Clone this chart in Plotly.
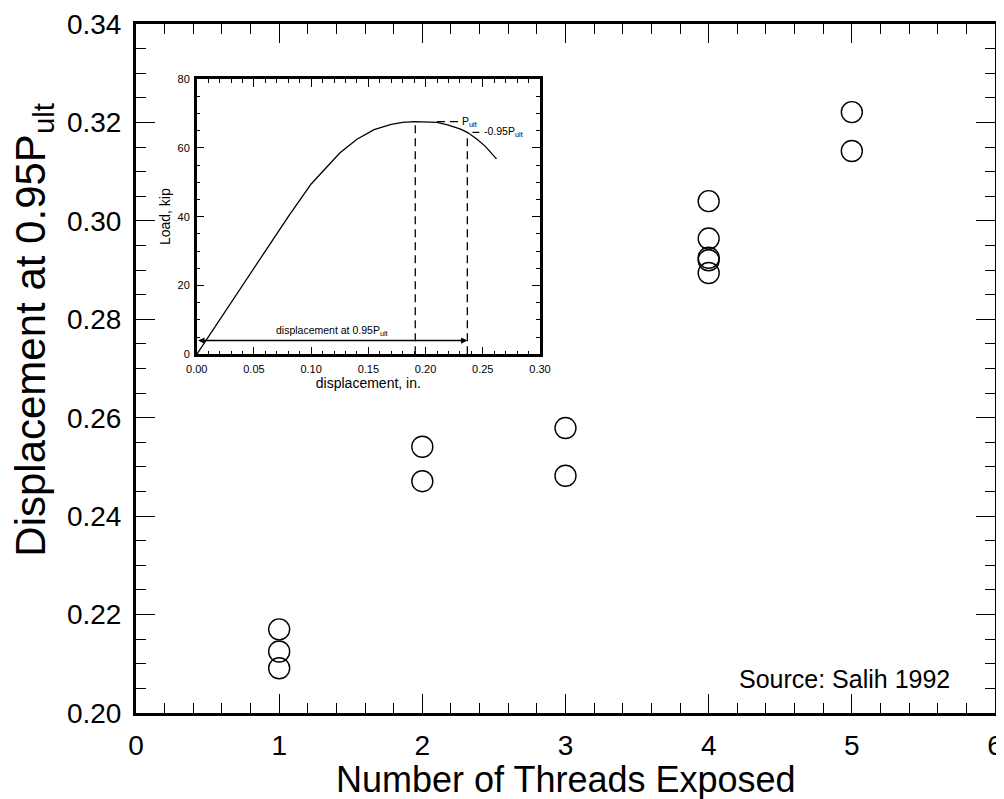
import plotly.graph_objects as go

# Main data: displacement at 0.95 Pult vs threads exposed
threads = [1, 1, 1, 2, 2, 3, 3, 4, 4, 4, 4, 4, 5, 5]
disp = [0.217, 0.2125, 0.2091, 0.2541, 0.2471, 0.2579, 0.2482,
        0.3040, 0.2964, 0.2925, 0.2920, 0.2894, 0.3221, 0.3142]

# Inset load-displacement curve
curve_x = [0.0, 0.02, 0.04, 0.06, 0.08, 0.10, 0.115, 0.125, 0.14, 0.155,
           0.17, 0.18, 0.19, 0.20, 0.21, 0.22, 0.23, 0.2365, 0.245, 0.252,
           0.257, 0.262]
curve_y = [0.0, 10.0, 20.0, 30.0, 40.0, 49.5, 55.0, 58.5, 62.5, 65.3,
           66.8, 67.4, 67.6, 67.6, 67.4, 66.6, 65.5, 64.5, 62.5, 60.5,
           58.8, 56.8]
p_ult_disp = 0.191
p_ult = 67.6
disp_95 = 0.2365
load_95 = 64.5

FONT = "Liberation Sans, Arial, sans-serif"

fig = go.Figure()

fig.add_trace(go.Scatter(
    x=threads, y=disp, mode="markers",
    marker=dict(symbol="circle", size=21, color="rgba(0,0,0,0)",
                line=dict(color="black", width=1.4)),
    xaxis="x", yaxis="y", showlegend=False, cliponaxis=False))

# Inset curve
fig.add_trace(go.Scatter(x=curve_x, y=curve_y, mode="lines",
                         line=dict(color="black", width=1.3),
                         xaxis="x2", yaxis="y2", showlegend=False))
# Vertical dashed lines
fig.add_trace(go.Scatter(x=[p_ult_disp, p_ult_disp], y=[0, p_ult], mode="lines",
                         line=dict(color="black", width=1.3, dash="8px,5px"),
                         xaxis="x2", yaxis="y2", showlegend=False))
fig.add_trace(go.Scatter(x=[disp_95, disp_95], y=[0, load_95], mode="lines",
                         line=dict(color="black", width=1.3, dash="8px,5px"),
                         xaxis="x2", yaxis="y2", showlegend=False))
# Leaders
fig.add_trace(go.Scatter(x=[0.21, 0.229], y=[p_ult, p_ult], mode="lines",
                         line=dict(color="black", width=1.3, dash="8px,5px"),
                         xaxis="x2", yaxis="y2", showlegend=False))
fig.add_trace(go.Scatter(x=[0.241, 0.247], y=[load_95, load_95], mode="lines",
                         line=dict(color="black", width=1.3),
                         xaxis="x2", yaxis="y2", showlegend=False))

main_ax = dict(
    showline=True, linecolor="black", linewidth=3, mirror="ticks",
    ticks="inside", ticklen=19, tickwidth=1.3, tickcolor="black",
    showgrid=False, zeroline=False, automargin=False,
    tickfont=dict(family=FONT, size=28, color="black"),
)
inset_ax = dict(
    showline=True, linecolor="black", linewidth=2.5, mirror="ticks",
    ticks="inside", ticklen=8, tickwidth=1.1, tickcolor="black",
    showgrid=False, zeroline=False, automargin=False,
    tickfont=dict(family=FONT, size=11, color="black"),
)

fig.update_layout(
    width=1004, height=799,
    margin=dict(l=128, r=17, t=16, b=94, autoexpand=False),
    paper_bgcolor="white", plot_bgcolor="white",
    font=dict(family=FONT, color="black"),
    xaxis=dict(range=[0, 6], dtick=1, tick0=0, ticklabelstandoff=5,
               minor=dict(dtick=0.2, ticks="inside", ticklen=10, tickwidth=1.1,
                          tickcolor="black"),
               **main_ax),
    yaxis=dict(range=[0.20, 0.34], dtick=0.02, tick0=0.2, tickformat=".2f",
               ticklabelstandoff=6,
               minor=dict(dtick=0.005, ticks="inside", ticklen=10, tickwidth=1.1,
                          tickcolor="black"),
               **main_ax),
    xaxis2=dict(domain=[0.0707, 0.4703], anchor="y2", range=[0, 0.30],
                dtick=0.05, tick0=0, tickformat=".2f", ticklabelstandoff=3,
                minor=dict(dtick=0.01, ticks="inside", ticklen=4, tickwidth=1,
                           tickcolor="black"),
                title=dict(text="displacement, in.", standoff=1,
                           font=dict(family=FONT, size=14, color="black")),
                **inset_ax),
    yaxis2=dict(domain=[0.5206, 0.9202], anchor="x2", range=[0, 80],
                dtick=20, tick0=0, ticklabelstandoff=2,
                minor=dict(dtick=5, ticks="inside", ticklen=4, tickwidth=1,
                           tickcolor="black"),
                title=dict(text="Load, kip", standoff=4,
                           font=dict(family=FONT, size=14, color="black")),
                **inset_ax),
)

# White background for inset
fig.add_shape(type="rect", xref="x2 domain", yref="y2 domain", x0=0, x1=1, y0=0, y1=1,
              fillcolor="white", line=dict(width=0), layer="below")

annotations = [
    dict(text="Number of Threads Exposed", xref="paper", yref="paper",
         x=0.5, y=-0.064, xanchor="center", yanchor="top", showarrow=False,
         font=dict(family=FONT, size=36, color="black")),
    dict(text="Displacement at 0.95P<sub>ult</sub>", xref="paper", yref="paper",
         x=-0.119, y=0.556, xanchor="center", yanchor="middle", textangle=-90,
         showarrow=False, font=dict(family=FONT, size=42, color="black")),
    dict(text="Source: Salih 1992", xref="paper", yref="paper",
         x=0.950, y=0.026, xanchor="right", yanchor="bottom", showarrow=False,
         font=dict(family=FONT, size=25, color="black")),
    dict(text="P<sub>ult</sub>", xref="x2", yref="y2", x=0.2305, y=p_ult,
         xanchor="left", yanchor="middle", showarrow=False,
         font=dict(family=FONT, size=10.5, color="black")),
    dict(text="-0.95P<sub>ult</sub>", xref="x2", yref="y2", x=0.2495, y=load_95,
         xanchor="left", yanchor="middle", showarrow=False,
         font=dict(family=FONT, size=10.5, color="black")),
    dict(text="displacement at 0.95P<sub>ult</sub>", xref="x2", yref="y2",
         x=0.118, y=4.2, xanchor="center", yanchor="bottom", showarrow=False,
         font=dict(family=FONT, size=10.5, color="black")),
    dict(text="", xref="x2", yref="y2", axref="x2", ayref="y2",
         x=disp_95, y=4, ax=0.0, ay=4, showarrow=True, arrowhead=2,
         arrowside="end+start", arrowwidth=1.4, arrowsize=0.9, arrowcolor="black",
         startarrowhead=2, startarrowsize=0.9),
]
fig.update_layout(annotations=annotations)

fig.write_html("out.html")
